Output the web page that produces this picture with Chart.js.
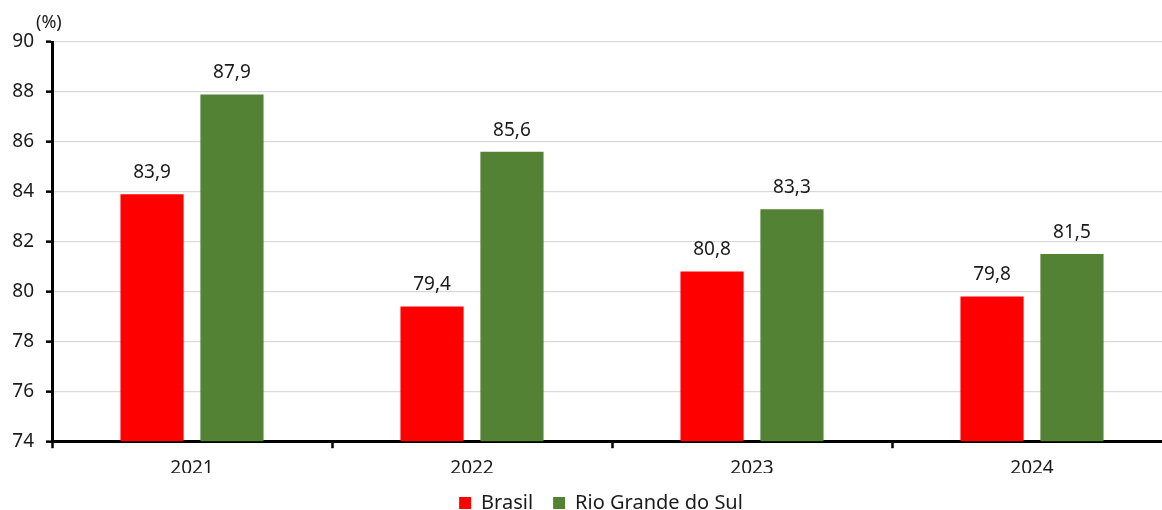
<!DOCTYPE html>
<html>
<head>
<meta charset="utf-8">
<script src="https://cdn.jsdelivr.net/npm/chart.js@4.4.1/dist/chart.umd.min.js"></script>
<style>
  html, body { margin: 0; padding: 0; background: #fff; overflow: hidden; }
  #wrap { width: 1162px; height: 510px; overflow: hidden; }
  canvas { display: block; }
</style>
</head>
<body>
<div id="wrap"><canvas id="c" width="1180" height="510" style="width:1180px;height:510px"></canvas></div>
<script>
const years = ['2021', '2022', '2023', '2024'];
const brasil = [83.9, 79.4, 80.8, 79.8];
const rioGrandeDoSul = [87.9, 85.6, 83.3, 81.5];
const yTicks = [74, 76, 78, 80, 82, 84, 86, 88, 90];

const FONT = '"Noto Sans", "Open Sans", sans-serif';

// Value labels above each bar, with a decimal comma
const valueLabels = {
  id: 'valueLabels',
  afterDatasetsDraw(chart) {
    const ctx = chart.ctx;
    ctx.save();
    ctx.font = '19px ' + FONT;
    ctx.fillStyle = '#1a1a1a';
    ctx.textAlign = 'center';
    ctx.textBaseline = 'bottom';
    chart.data.datasets.forEach((ds, i) => {
      chart.getDatasetMeta(i).data.forEach((bar, j) => {
        ctx.fillText(ds.data[j].toFixed(1).replace('.', ','), bar.x, bar.y - 12);
      });
    });
    ctx.restore();
  }
};

// Unit label above the value axis
const unitLabel = {
  id: 'unitLabel',
  afterDraw(chart) {
    const ctx = chart.ctx;
    const a = chart.chartArea;
    ctx.save();
    ctx.font = '18px ' + FONT;
    ctx.fillStyle = '#1a1a1a';
    ctx.textAlign = 'left';
    ctx.textBaseline = 'middle';
    ctx.fillText('(%)', a.left - 16, a.top - 19);
    ctx.restore();
  }
};

// Centre the legend under the visible part of the plot
const legendShift = {
  id: 'legendShift',
  afterLayout(chart) {
    if (chart.legend) chart.legend.left += 30;
  }
};

new Chart(document.getElementById('c'), {
  type: 'bar',
  data: {
    labels: years,
    datasets: [
      { label: 'Brasil', data: brasil, backgroundColor: '#FF0000' },
      { label: 'Rio Grande do Sul', data: rioGrandeDoSul, backgroundColor: '#548235' }
    ]
  },
  options: {
    responsive: false,
    animation: false,
    devicePixelRatio: 1,
    layout: { padding: { top: 42, left: 0, right: 8, bottom: -13 } },
    datasets: { bar: { categoryPercentage: 0.571, barPercentage: 0.79 } },
    scales: {
      x: {
        afterFit(scale) { scale.height = scale.height - 16; },
        grid: { offset: true, drawOnChartArea: false, tickLength: 7, tickColor: '#000', tickWidth: 2.5 },
        border: { color: '#000', width: 3 },
        ticks: { color: '#1a1a1a', font: { family: FONT, size: 19 }, padding: 9 }
      },
      y: {
        min: 74, max: 90,
        afterBuildTicks(scale) { scale.ticks = yTicks.map(v => ({ value: v })); },
        afterFit(scale) { scale.width = 52; },
        grid: { color: '#d9d9d9', lineWidth: 1.3, tickLength: 6, tickColor: '#000', tickWidth: 2.5 },
        border: { color: '#000', width: 3 },
        ticks: { color: '#1a1a1a', font: { family: FONT, size: 19 }, padding: 12 }
      }
    },
    plugins: {
      legend: {
        position: 'bottom',
        labels: {
          color: '#1a1a1a',
          font: { family: FONT, size: 20 },
          boxWidth: 12, boxHeight: 12, padding: 20
        }
      },
      tooltip: { enabled: false }
    }
  },
  plugins: [valueLabels, unitLabel, legendShift]
});
</script>
</body>
</html>
